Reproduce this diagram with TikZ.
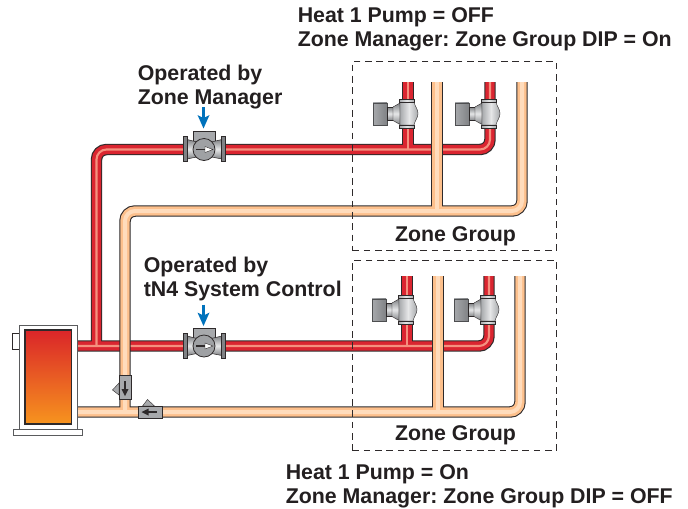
\documentclass[tikz,border=0pt]{standalone}
\usepackage{fontspec}
\setmainfont{Liberation Sans}
\frenchspacing
\definecolor{pout}{HTML}{2E2A2B}
\definecolor{redm}{HTML}{DA2530}
\definecolor{redl}{HTML}{F4917F}
\definecolor{tanm}{HTML}{FDC08C}
\definecolor{tanl}{HTML}{FFDCBC}
\definecolor{gm}{HTML}{A7A9AC}
\definecolor{gd}{HTML}{808285}
\definecolor{gl}{HTML}{E6E7E8}
\definecolor{blu}{HTML}{0072BC}
\definecolor{btop}{HTML}{DA2529}
\definecolor{bmid}{HTML}{EA7A55}
\definecolor{bbot}{HTML}{F7941E}
\definecolor{txt}{HTML}{231F20}
\tikzset{
  pipeout/.style={line width=8.6pt,draw=pout,rounded corners=7.5pt},
  redfill/.style={line width=6.9pt,draw=redm,rounded corners=7.5pt},
  redhi/.style={line width=1.6pt,draw=redl,rounded corners=7.5pt},
  tanfill/.style={line width=7pt,draw=tanm,rounded corners=7.5pt},
  tanhi/.style={line width=3pt,draw=tanl,rounded corners=7.5pt},
  dashbox/.style={draw=pout,line width=0.7pt,dash pattern=on 5pt off 3.5pt},
  lbl/.style={font=\bfseries\fontsize{16}{16}\selectfont,anchor=base west,inner sep=0pt,text=txt},
  lblc/.style={lbl,anchor=base},
  blueArrow/.style={draw=blu,line width=2.2pt},
  pics/zonevalve/.style={code={
    \shade[left color=gm,right color=gd,draw=gd!60!black,line width=0.3pt] (-35,-11.3) rectangle (-21,10.7);
    \shade[top color=gd,bottom color=gd,middle color=gl,draw=pout,line width=0.3pt] (-21,-7) rectangle (-15,6.5);
    \shade[top color=gd,bottom color=gd,middle color=gl,draw=pout,line width=0.3pt] (-15,-7) -- (-8,-11) -- (-8,10.5) -- (-15,6.5) -- cycle;
    \shade[left color=gm,right color=gm,middle color=gl,draw=pout,line width=0.3pt] (-8,-12) -- (6,-12) .. controls (7,-7) and (10,-5) .. (10,-0.5) .. controls (10,4) and (7,6) .. (6,11) -- (-8,11) -- cycle;
    \shade[left color=gm,right color=gm,middle color=gl,draw=pout,line width=0.4pt] (-8.5,-15) rectangle (6.5,-12);
    \shade[left color=gm,right color=gm,middle color=gl,draw=pout,line width=0.4pt] (-8.5,11) rectangle (6.5,14);
  }},
  pics/pump/.style={code={
    \fill[gm,draw=pout,line width=0.4pt] (-9.5,-18) rectangle (12,-2);
    \shade[top color=gd,bottom color=gd,middle color=gl,draw=pout,line width=0.4pt] (-16,-10) -- (-4,-7) -- (6,-7) -- (19,-10) -- (19,9.5) -- (6,7) -- (-4,7) -- (-16,9.5) -- cycle;
    \fill[gd,draw=pout,line width=0.4pt] (-19.5,-13) rectangle (-16,12);
    \fill[gd,draw=pout,line width=0.4pt] (18.7,-13) rectangle (22.2,12);
    \fill[gm!80!gd,draw=pout,line width=0.6pt] (1,0) circle (11);
    \draw[pout,line width=0.9pt] (-7,0) -- (3,0);
    \fill[white,draw=pout,line width=0.3pt] (2,-3) -- (10,0) -- (2,3) -- cycle;
  }},
  pics/checkv/.style={code={
    \fill[gm,draw=pout,line width=0.3pt] (-6,-5) -- (-12.5,2) -- (-6,7) -- cycle;
    \fill[gm,draw=pout,line width=0.6pt] (-6,-12.5) rectangle (6,11.5);
    \draw[pout,line width=1pt] (0,-7) -- (0,2);
    \fill[pout] (-3.5,1) -- (3.5,1) -- (0,8) -- cycle;
  }},
}
\begin{document}
\begin{tikzpicture}[x=0.75pt,y=-0.75pt]
\useasboundingbox (0,0) rectangle (688,508);
\fill[white] (0,0) rectangle (688,508);
% pipe coordinates
\coordinate (ra) at (77,346);
\coordinate (rb) at (96.5,346);
\coordinate (rc) at (96.5,149.5);
\coordinate (rd) at (490,149.5);
\coordinate (re) at (490,82);
\coordinate (rf) at (408,149.5);
\coordinate (rg) at (408,82);
\coordinate (rh) at (489,346);
\coordinate (ri) at (489,276);
\coordinate (rj) at (407,346);
\coordinate (rk) at (407,276);
\coordinate (ta) at (125,412);
\coordinate (tb) at (125,211);
\coordinate (tc) at (522,211);
\coordinate (td) at (522,82);
\coordinate (te) at (437,211);
\coordinate (tf) at (437,82);
\coordinate (tg) at (77,412);
\coordinate (th) at (520,412);
\coordinate (ti) at (520,276);
\coordinate (tj) at (438,412);
\coordinate (tk) at (438,276);
% red
\foreach \sty in {pipeout,redfill,redhi}{
  \draw[\sty] (rb) -- (rc) -- (rd) -- (re);
  \draw[\sty] (rf) -- (rg);
  \draw[\sty] (ra) -- (rh) -- (ri);
  \draw[\sty] (rj) -- (rk);
}
% tan
\foreach \sty in {pipeout,tanfill,tanhi}{
  \draw[\sty] (ta) -- (tb) -- (tc) -- (td);
  \draw[\sty] (te) -- (tf);
  \draw[\sty] (tg) -- (th) -- (ti);
  \draw[\sty] (tj) -- (tk);
}
% zone valves
\pic at (408,114) {zonevalve};
\pic at (490,114) {zonevalve};
\pic at (407,310) {zonevalve};
\pic at (489,310) {zonevalve};
% pumps
\pic at (203,149.5) {pump};
\pic at (203,346) {pump};
% check valves
\pic at (125,388) {checkv};
\pic[rotate=-90] at (149.5,412) {checkv};
% boiler
\node[draw=pout,fill=white,line width=0.6pt,minimum width=5pt,minimum height=12pt,inner sep=0pt,anchor=north west] (sidebox) at (12.3,333) {};
\node[draw=gd!70!black,fill=white,line width=0.8pt,minimum width=43.5pt,minimum height=78.5pt,inner sep=0pt,anchor=north west] (boiler) at (19.3,324.7) {};
\node[draw=gd!70!black,fill=white,line width=0.8pt,minimum width=51.3pt,minimum height=4.5pt,inner sep=0pt,anchor=north west] (bbase) at (13.3,429.3) {};
\shade[top color=btop,middle color=bmid,bottom color=bbot,draw=pout,line width=0.8pt] (25,330) rectangle (71.7,424);
% dashed boxes
\node[dashbox,minimum width=153pt,minimum height=142pt,inner sep=0pt,anchor=north west] (zone1) at (352,60.7) {};
\node[dashbox,minimum width=153pt,minimum height=142.5pt,inner sep=0pt,anchor=north west] (zone2) at (352,260) {};
% blue arrows
\coordinate (b1a) at (203.5,107);
\coordinate (b1b) at (203.5,120);
\coordinate (b2a) at (203.5,304.5);
\coordinate (b2b) at (203.5,317.5);
\draw[blueArrow] (b1a) -- (b1b);
\fill[blu] (197.5,115) -- (203.5,118) -- (209.5,115) -- (203.5,128.5) -- cycle;
\draw[blueArrow] (b2a) -- (b2b);
\fill[blu] (197.5,312.5) -- (203.5,315.5) -- (209.5,312.5) -- (203.5,326) -- cycle;
% labels
\node[lbl] (t1) at (297.5,22) {Heat 1 Pump = OFF};
\node[lbl] (t2) at (297.5,46) {Zone Manager: Zone Group DIP = On};
\node[lbl] (t3) at (137.5,80) {Operated by};
\node[lbl] (t4) at (137.5,104) {Zone Manager};
\node[lblc] (t5) at (455.5,241) {Zone Group};
\node[lbl] (t6) at (143.5,272) {Operated by};
\node[lbl] (t7) at (143.5,296) {tN4 System Control};
\node[lblc] (t8) at (455.5,440) {Zone Group};
\node[lbl] (t9) at (285.5,479) {Heat 1 Pump = On};
\node[lbl] (t10) at (285.5,503.5) {Zone Manager: Zone Group DIP = OFF};
\end{tikzpicture}
\end{document}
